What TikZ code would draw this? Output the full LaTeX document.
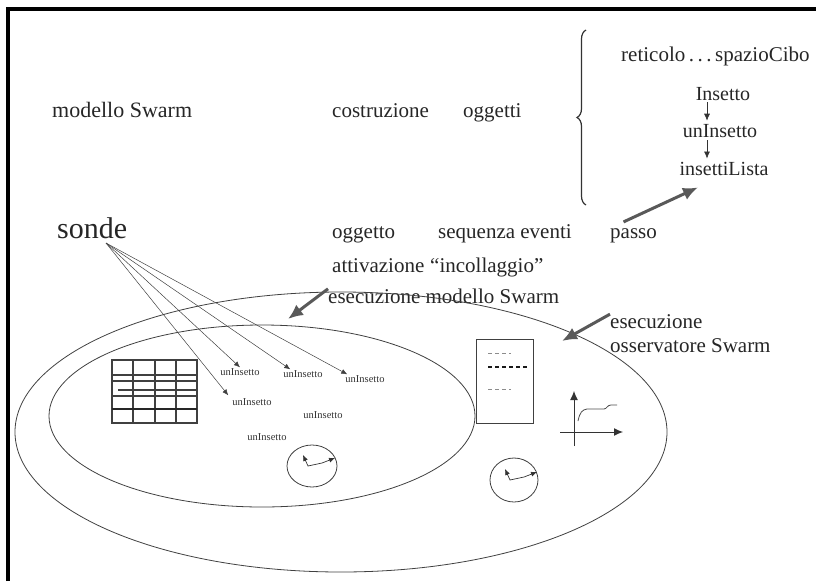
\documentclass[tikz,border=0pt]{standalone}
\usepackage{fontspec}
\setmainfont{Liberation Serif}
\usetikzlibrary{arrows.meta,positioning,decorations.pathreplacing}
\tikzset
{
    testo/.style   = {anchor=base west, inner sep=0pt, text=black!85, font=\fontsize{21}{23}\selectfont},
    testoc/.style  = {anchor=base, inner sep=0pt, text=black!85, font=\fontsize{20}{22}\selectfont},
    piccolo/.style = {inner sep=0pt, text=black!80, font=\fontsize{10.5}{12}\selectfont},
    bordo/.style   = {line width=0.8pt, draw=black!75},
    sonda/.style   = {-{Latex[length=6pt,width=5pt]}, line width=0.5pt, black!75},
    freccina/.style= {-{Latex[length=7pt,width=6pt]}, line width=0.7pt, black!80},
    grossa/.style  = {-{Latex[length=15pt,width=13pt]}, line width=3pt, black!65},
    griglia/.style = {line width=1.1pt, black!75}
}
\begin{document}
\begin{tikzpicture}[x=1pt, y=-1pt]
    \useasboundingbox (0,0) rectangle (816,581);
    % cornice
    \draw[line width=3.5pt] (8,581) -- (8,9) -- (816,9);

    % prima riga
    \node [testo, font=\fontsize{22}{24}\selectfont] (modello) at (52,117) {modello Swarm};
    \node [testo] (costr) at (332,117) {costruzione};
    \node [testo] (ogg)   at (463,117) {oggetti};
    \draw [line width=1.2pt, black!80, decorate, decoration={brace, amplitude=9pt}] (586,205) -- (586,30);
    \node [testo] (retic) at (621,61) {reticolo\,.\,.\,.\,spazioCibo};
    \node [testoc] (ins)   at (723,100) {Insetto};
    \node [testoc] (unins) at (720,137) {unInsetto};
    \node [testoc] (lista) at (724,175) {insettiLista};
    \draw [freccina] ([xshift=-16pt,yshift=-2pt]ins.south) -- ([xshift=-13pt,yshift=3pt]unins.north);
    \draw [freccina] ([xshift=-13pt,yshift=-3pt]unins.south) -- ([xshift=-17pt,yshift=3pt]lista.north);

    % seconda riga
    \node [testo, font=\fontsize{30}{32}\selectfont] (sonde) at (57,238) {sonde};
    \node [testo] (oggetto) at (332,238) {oggetto};
    \node [testo] (seq)     at (438,238) {sequenza eventi};
    \node [testo] (passo)   at (610,238) {passo};
    \node [testo] (attiv)   at (332,272) {attivazione};
    \node [testo] (incoll)  at (430,272) {“incollaggio”};
    \node [testo] (esmod)   at (328,303) {esecuzione modello Swarm};
    \node [testo] (esoss)   at (610,328) {esecuzione};
    \node [testo] (osserv)  at (610,352) {osservatore Swarm};
    \draw [grossa] ([xshift=-10pt,yshift=6pt]passo.north) -- ([xshift=-26pt,yshift=-12pt]lista.south);

    % ellissi
    \draw [bordo] (341,432) ellipse (326 and 140);
    \draw [bordo] (262,416) ellipse (213 and 91);
    \coordinate (mod) at (288,319);
    \coordinate (oss) at (562,341);
    \draw [grossa] ([yshift=7pt]esmod.west) -- (mod);
    \draw [grossa] ([yshift=7pt]esoss.west) -- (oss);

    % reticolo
    \draw [griglia] (112,360) rectangle (197,423);
    \foreach \x in {133,155,176}
        \draw [griglia] (\x,360) -- (\x,423);
    \foreach \y in {375,381,396}
        \draw [griglia] (112,\y) -- (197,\y);
    \draw [griglia] (118,390) -- (197,390);
    \draw [line width=2.4pt, black!85] (112,409) -- (197,409);

    % insetti
    \coordinate (probe) at (106,243);
    \node [piccolo] (u1) at (240,372) {unInsetto};
    \node [piccolo] (u2) at (303,374) {unInsetto};
    \node [piccolo] (u3) at (365,379) {unInsetto};
    \node [piccolo] (u4) at (252,402) {unInsetto};
    \node [piccolo] (u5) at (323,415) {unInsetto};
    \node [piccolo] (u6) at (267,437) {unInsetto};
    \draw [sonda] (probe) -- ([yshift=1pt]u1.north);
    \draw [sonda] (probe) -- ([xshift=7pt,yshift=1pt]u2.north west);
    \draw [sonda] (probe) -- ([xshift=2pt,yshift=1pt]u3.north west);
    \draw [sonda] (probe) -- ([xshift=-4pt,yshift=3pt]u4.north west);

    % orologi
    \draw [bordo] (312,466) ellipse (25 and 21);
    \draw [freccina, {Latex[length=6pt,width=5pt]}-{Latex[length=6pt,width=5pt]}] (303,455) -- (308,466) -- (322,463) -- (335,458);
    \draw [bordo] (514,480) ellipse (24 and 22);
    \draw [freccina, {Latex[length=6pt,width=5pt]}-{Latex[length=6pt,width=5pt]}] (505,469) -- (510,480) -- (524,477) -- (537,472);

    % osservatore
    \draw [bordo, line width=1pt] (476,339) rectangle (533,423);
    \draw [black!45, line width=1pt, dash pattern=on 4pt off 3pt] (488,353) -- (511,353);
    \draw [black!90, line width=1.4pt, dash pattern=on 4pt off 3pt] (488,367) -- (528,367);
    \draw [black!45, line width=1pt, dash pattern=on 4pt off 3pt] (488,389) -- (511,389);
    \draw [freccina, line width=1pt, -{Latex[length=9pt,width=8pt]}] (574,446) -- (574,391);
    \draw [freccina, line width=1pt, -{Latex[length=9pt,width=8pt]}] (560,432) -- (623,432);
    \draw [black!70, line width=0.8pt] (578,421) .. controls (580,412) and (582,410) .. (587,409) -- (604,409) .. controls (607,409) and (607,405) .. (611,405) -- (617,405);
\end{tikzpicture}
\end{document}
